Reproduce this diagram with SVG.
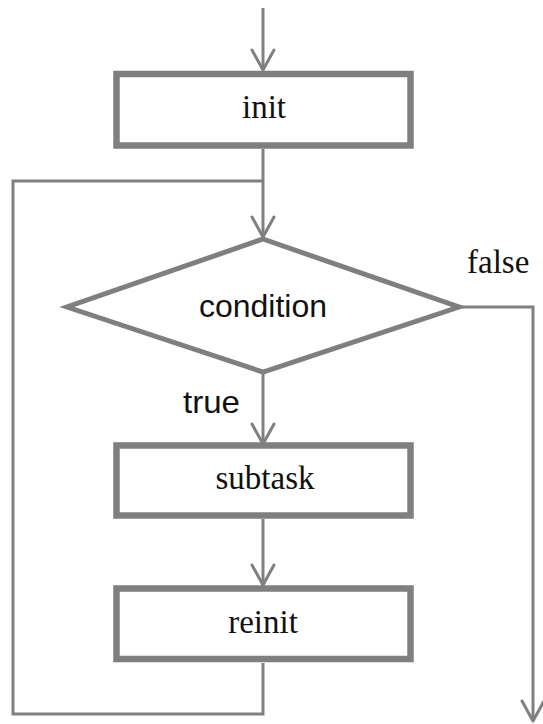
<svg xmlns="http://www.w3.org/2000/svg" width="543" height="724" viewBox="0 0 543 724">
  <defs>
    <marker id="arrow" markerWidth="30" markerHeight="30" refX="0" refY="0" orient="auto" markerUnits="userSpaceOnUse" overflow="visible">
      <path d="M-20,-11 L0,0 L-20,11" fill="none" stroke="#808080" stroke-width="3" stroke-linejoin="round" stroke-linecap="round"/>
    </marker>
    <style>
      .box { fill: #ffffff; stroke: #7f7f7f; stroke-width: 6.5; }
      .diamond { fill: #ffffff; stroke: #7f7f7f; stroke-width: 5; stroke-linejoin: miter; }
      .conn { fill: none; stroke: #808080; stroke-width: 3; }
      .serif { font-family: "Liberation Serif", "Times New Roman", serif; font-size: 33px; fill: #111111; }
      .sans { font-family: "Liberation Sans", Arial, sans-serif; font-size: 32px; fill: #111111; }
      .mid { text-anchor: middle; }
      .start { text-anchor: start; }
    </style>
  </defs>
  <rect width="543" height="724" fill="#ffffff"/>

  <g id="connectors">
    <line class="conn" x1="263" y1="8" x2="263" y2="70" marker-end="url(#arrow)"/>
    <line class="conn" x1="263" y1="149" x2="263" y2="237" marker-end="url(#arrow)"/>
    <polyline class="conn" points="263,663 263,714 13,714 13,181 263,181"/>
    <line class="conn" x1="263" y1="373" x2="263" y2="444" marker-end="url(#arrow)"/>
    <line class="conn" x1="263" y1="519" x2="263" y2="585" marker-end="url(#arrow)"/>
    <polyline class="conn" points="460,307 533,307 533,721" marker-end="url(#arrow)"/>
  </g>

  <g id="init">
    <rect class="box" x="116.5" y="74" width="294" height="71.5"/>
    <text class="serif mid" x="264" y="118">init</text>
  </g>

  <g id="condition">
    <polygon class="diamond" points="263,239 459,307 263,372 67,307"/>
    <text class="sans mid" x="263" y="317">condition</text>
  </g>

  <g id="subtask">
    <rect class="box" x="116.5" y="445.5" width="294" height="70"/>
    <text class="serif mid" x="265" y="489">subtask</text>
  </g>

  <g id="reinit">
    <rect class="box" x="116.5" y="588.5" width="294" height="70.5"/>
    <text class="serif mid" x="263" y="633">reinit</text>
  </g>

  <g id="labels">
    <text class="sans start" x="183" y="413" textLength="57" lengthAdjust="spacingAndGlyphs">true</text>
    <text class="serif start" x="467" y="273">false</text>
  </g>
</svg>
